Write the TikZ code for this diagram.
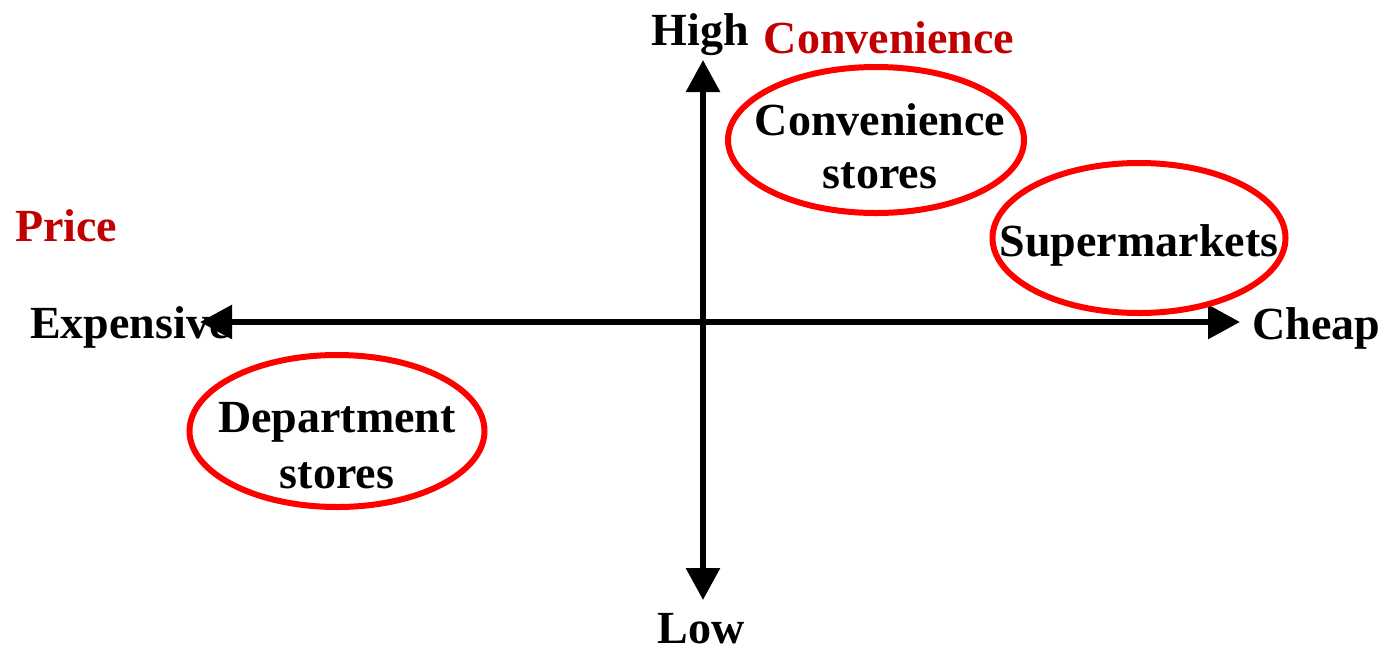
\documentclass[tikz,border=0pt]{standalone}
\usepackage{fontspec}
\setmainfont{Liberation Serif}
\usetikzlibrary{arrows.meta,shapes.geometric}
\definecolor{labelred}{HTML}{C00000}
\definecolor{ringred}{HTML}{FF0000}
\tikzset{
  lbl/.style={font=\fontsize{46}{55}\selectfont\bfseries, inner sep=0pt, anchor=base},
  redlbl/.style={lbl, text=labelred},
  ring/.style={draw=ringred, line width=6pt, ellipse, inner sep=0pt},
  axis/.style={line width=6pt, {Triangle[length=32pt,width=33pt]}-{Triangle[length=32pt,width=33pt]}},
}
\begin{document}
\begin{tikzpicture}[x=1pt,y=-1pt]
\useasboundingbox (0,0) rectangle (1384,649);
% labels
\node[lbl] (high) at (700,45) {High};
\node[redlbl] (conv) at (889,53) {Convenience};
\node[redlbl, anchor=base west] (price) at (15,241) {Price};
\node[lbl, anchor=base west] (exp) at (30,338) {Expensive};
\node[lbl, anchor=base west] (cheap) at (1252,339) {Cheap};
\node[lbl] (low) at (701,643) {Low};
% axes
\coordinate (L) at (200,322);
\coordinate (R) at (1240,322);
\coordinate (T) at (703,60);
\coordinate (B) at (703,600);
\draw[axis] (L) -- (R);
\draw[axis] (B) -- (T);
% ellipses
\node[ring, minimum width=296pt, minimum height=146pt] (cs) at (876,140) {};
\node[lbl] (cs1) at (880,135) {Convenience};
\node[lbl] (cs2) at (880,188) {stores};
\node[ring, minimum width=293pt, minimum height=150pt] (sm) at (1139,238) {};
\node[lbl] (sm1) at (1139,256) {Supermarkets};
\node[ring, minimum width=295pt, minimum height=152pt] (ds) at (337,431) {};
\node[lbl] (ds1) at (337,432) {Department};
\node[lbl] (ds2) at (337,488) {stores};
\end{tikzpicture}
\end{document}
